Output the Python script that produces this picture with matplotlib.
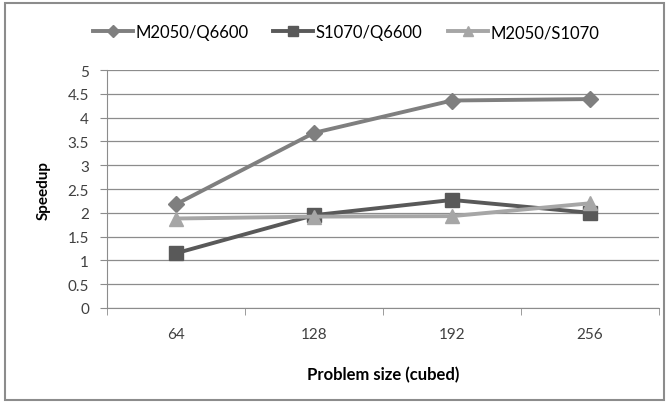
import numpy as np
import matplotlib
matplotlib.use("Agg")
import matplotlib.pyplot as plt
from matplotlib.patches import Rectangle

sizes = ["64", "128", "192", "256"]
m2050_q6600 = [2.18, 3.68, 4.36, 4.39]
s1070_q6600 = [1.15, 1.95, 2.27, 2.0]
m2050_s1070 = [1.88, 1.92, 1.93, 2.2]

plt.rcParams['font.family'] = ['Lato', 'DejaVu Sans']

fig = plt.figure(figsize=(6.69, 4.06), dpi=100)
ax = fig.add_axes([0.160, 0.239, 0.825, 0.586])

# outer frame like the spreadsheet chart area
fig.patches.append(Rectangle((0.008, 0.012), 0.984, 0.978, transform=fig.transFigure,
                             fill=False, edgecolor='#8c8c8c', linewidth=1.5))

x = np.arange(len(sizes))
ax.plot(x, m2050_q6600, color='#7f7f7f', lw=2.8, marker='D', ms=8.5, label='M2050/Q6600')
ax.plot(x, s1070_q6600, color='#595959', lw=2.8, marker='s', ms=10, label='S1070/Q6600')
ax.plot(x, m2050_s1070, color='#a6a6a6', lw=2.8, marker='^', ms=10, label='M2050/S1070')

ax.set_xlim(-0.5, 3.5)
ax.set_ylim(0, 5)
ax.set_yticks(np.arange(0, 5.01, 0.5))
ax.set_yticklabels(["0", "0.5", "1", "1.5", "2", "2.5", "3", "3.5", "4", "4.5", "5"])
ax.set_xticks(x)
ax.set_xticklabels(sizes)
ax.set_xticks(np.arange(-0.5, 4, 1), minor=True)
ax.tick_params(axis='x', which='major', length=0, pad=14, labelsize=11, colors='#404040')
ax.tick_params(axis='x', which='minor', length=5, color='#8c8c8c')
ax.tick_params(axis='y', length=5, color='#8c8c8c', labelsize=11, labelcolor='#404040', pad=8)
ax.grid(axis='y', color='#8c8c8c', lw=0.9)
ax.set_axisbelow(True)
for s in ['top', 'right']:
    ax.spines[s].set_visible(False)
for s in ['left', 'bottom']:
    ax.spines[s].set_color('#8c8c8c')

ax.set_xlabel('Problem size (cubed)', fontsize=12, fontweight='bold', labelpad=18)
ax.set_ylabel('Speedup', fontsize=11, fontweight='bold', labelpad=12)

fig.legend(loc='center', bbox_to_anchor=(0.517, 0.918), ncol=3, frameon=False,
           fontsize=12, handlelength=2.4, columnspacing=1.5, handletextpad=0.15,
           markerscale=0.75)

fig.savefig('out.png', dpi=100)
